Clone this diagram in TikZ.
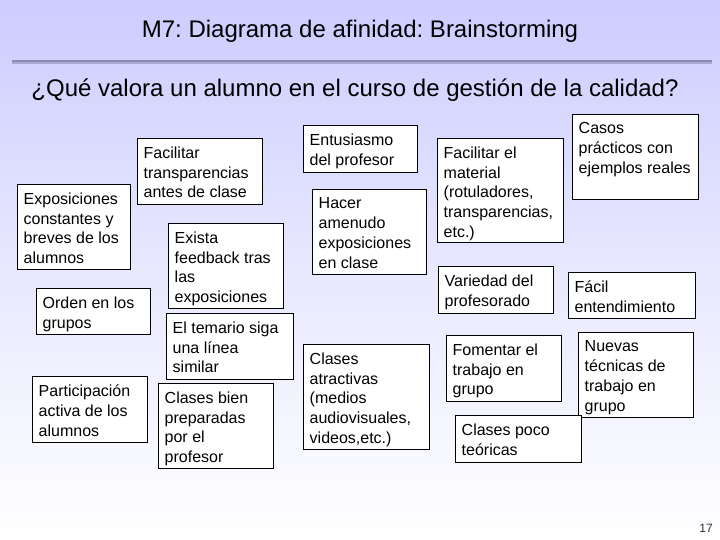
\documentclass[tikz,border=0pt]{standalone}
\usepackage{fontspec}
\setmainfont{Liberation Sans}
\frenchspacing
\definecolor{lav}{RGB}{204,204,255}
\definecolor{rule}{RGB}{140,140,175}
\definecolor{ruleshadow}{RGB}{170,170,215}
\definecolor{pagenum}{RGB}{40,40,60}
\tikzset{
  box/.style={draw=black, line width=0.9pt, fill=white, inner sep=0pt, anchor=north west},
  boxtext/.style={inner sep=0pt, anchor=north west, align=left, font=\fontsize{16}{19.8}\selectfont},
}
\newcommand{\card}[6]{%
  \node[box, minimum width=#3-#1, minimum height=#4-#2] (#5) at (#1,#2) {};
  \node[boxtext] (#5t) at ([shift={(6.5,8.5)}]#5.north west) {#6};
}
\begin{document}
\begin{tikzpicture}[x=1pt, y=-1pt]
\useasboundingbox (0,0) rectangle (720,540);
\shade[top color=lav, bottom color=white, middle color=lav!45] (0,0) rectangle (720,540);
\node[anchor=base, font=\fontsize{24}{28}\selectfont] (title) at (360,38) {M7: Diagrama de afinidad: Brainstorming};
\coordinate (rl) at (12,61);
\coordinate (rr) at (712,61);
\draw[ruleshadow, line width=2.5pt] ([yshift=-2pt]rl) -- ([yshift=-2pt]rr);
\draw[rule, line width=2.2pt] (rl) -- (rr);
\node[anchor=base, font=\fontsize{24}{28}\selectfont] (sub) at (355,97) {¿Qué valora un alumno en el curso de gestión de la calidad?};

\card{137}{138}{262}{204}{tr}{Facilitar\\transparencias\\antes de clase}
\card{17}{184}{130}{269}{ex}{Exposiciones\\constantes y\\breves de los\\alumnos}
\card{168}{223}{283}{308}{fb}{Exista\\feedback tras\\las\\exposiciones}
\card{36}{288}{150}{334}{og}{Orden en los\\grupos}
\card{166}{313}{293}{379}{tm}{El temario siga\\una línea\\similar}
\card{32}{376}{147}{442}{pa}{Participación\\activa de los\\alumnos}
\card{158}{383}{273}{468}{cb}{Clases bien\\preparadas\\por el\\profesor}
\card{303}{125}{417}{172}{en}{Entusiasmo\\del profesor}
\card{312}{189}{426}{274}{ha}{Hacer\\amenudo\\exposiciones\\en clase}
\card{437}{138}{563}{242}{fm}{Facilitar el\\material\\(rotuladores,\\transparencias,\\etc.)}
\card{438}{266}{553}{313}{vp}{Variedad del\\profesorado}
\card{303}{344}{429}{449}{ca}{Clases\\atractivas\\(medios\\audiovisuales,\\videos,etc.)}
\card{446}{335}{561}{401}{fg}{Fomentar el\\trabajo en\\grupo}
\card{578}{332}{693}{417}{nt}{Nuevas\\técnicas de\\trabajo en\\grupo}
\card{455}{415}{581}{462}{cp}{Clases poco\\teóricas}
\card{572}{114}{698}{199}{cpr}{Casos\\prácticos con\\ejemplos reales}
\card{568}{272}{695}{318}{fe}{Fácil\\entendimiento}

\node[anchor=base, font=\fontsize{12}{14}\selectfont, text=pagenum] (pg) at (706,532) {17};
\end{tikzpicture}
\end{document}
